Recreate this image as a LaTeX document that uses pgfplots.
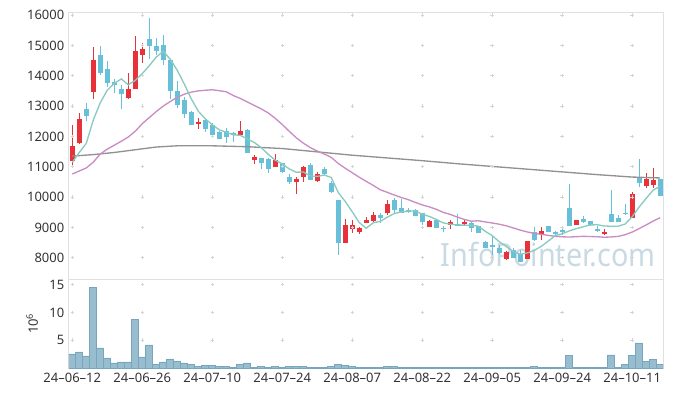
\documentclass[border=0pt]{standalone}
\usepackage{fontspec}
\setmainfont{Noto Sans}
\usepackage{graphicx}
\usepackage{pgfplots}
\usepackage{pgfplotstable}
\pgfplotsset{compat=1.18}
\usetikzlibrary{calc}
\definecolor{upred}{RGB}{232,50,58}
\definecolor{dnblue}{RGB}{104,192,216}
\definecolor{maA}{RGB}{136,202,192}
\definecolor{maB}{RGB}{202,140,196}
\definecolor{maC}{RGB}{145,145,145}
\definecolor{volfill}{RGB}{151,189,206}
\definecolor{voledge}{RGB}{120,166,189}
\definecolor{framec}{RGB}{224,224,224}
\definecolor{gridc}{RGB}{212,212,212}
\definecolor{wm}{RGB}{200,218,228}
\definecolor{txt}{RGB}{51,51,51}

% up (red) candles
\pgfplotstableread{
i O H L C
0 11200 12370 11030 11680
1 11770 12760 11760 12570
3 13470 14940 13220 14520
8 13280 14080 13240 13560
9 13570 15300 13550 14810
10 14690 15070 14430 14880
18 12420 12600 12230 12480
24 12060 12510 12050 12180
26 11220 11390 11090 11330
29 11000 11420 10990 11220
32 10510 10650 10090 10590
33 10670 11030 10490 10980
35 10540 10840 10490 10760
39 8500 9270 8490 9080
40 8940 9240 8830 9070
41 8840 9020 8780 8970
42 9160 9330 9130 9240
43 9220 9500 9130 9410
45 9490 9900 9410 9770
51 9020 9240 9010 9220
54 9070 9240 8940 9180
56 9100 9240 9060 9190
62 7960 8210 7910 8200
65 7960 8560 7950 8550
67 8770 9020 8590 8880
72 9090 9260 9080 9240
76 8770 8960 8760 8850
80 9320 10180 9310 10100
82 10380 10780 10290 10600
83 10410 10950 10290 10560
}\upc

% down (blue) candles
\pgfplotstableread{
i O H L C
2 12900 13090 12510 12680
4 14680 14980 14030 14100
5 14210 14480 13640 13750
6 13780 13900 13420 13690
7 13560 13700 12890 13410
11 15210 15890 14560 14990
12 14980 15230 14670 14830
13 15010 15340 14350 14520
14 14520 14520 13230 13500
15 13510 13840 12930 13040
16 13200 13300 12620 12740
17 12800 12850 12360 12390
19 12540 12600 12150 12250
20 12380 12450 11940 12050
21 12150 12190 11900 11920
22 12180 12270 11770 11980
23 12100 12150 11830 12050
25 12210 12240 11440 11460
27 11290 11300 10920 11130
28 11250 11280 10780 10940
30 11110 11130 10780 10840
31 10660 10750 10420 10510
34 11060 11110 10550 10560
36 10930 10980 10740 10750
37 10470 10540 10140 10180
38 9900 9910 8100 8500
44 9410 9490 9160 9300
46 9900 9960 9460 9570
47 9630 9940 9460 9490
48 9580 9630 9470 9530
49 9580 9600 9370 9390
50 9460 9480 9080 9190
52 9240 9250 8980 8990
53 8990 9050 8840 8960
55 9120 9440 9040 9050
57 9160 9170 8860 8990
58 9060 9060 8800 8800
59 8530 8540 8320 8330
60 8420 8730 8080 8350
61 8330 8420 8120 8170
63 8250 8310 7990 8000
64 8140 8250 7860 7870
66 8860 9020 8550 8580
68 9050 9060 8850 8860
69 8860 8870 8760 8770
70 8900 9000 8750 8870
71 9630 10420 9040 9050
73 9270 9380 9130 9180
74 9200 9210 9060 9070
75 8960 9050 8850 8900
77 9440 10230 9180 9190
78 9300 9400 9180 9190
79 9490 9760 9420 9430
81 10650 11250 10320 10470
84 10600 10600 10040 10050
}\dnc

% 5-day moving average
\pgfplotstableread{
i v
0 11145
1 11470
2 11771
3 12540
4 13110
5 13524
6 13748
7 13894
8 13702
9 13844
10 14070
11 14330
12 14614
13 14806
14 14544
15 14176
16 13726
17 13238
18 12830
19 12580
20 12382
21 12218
22 12136
23 12050
24 12036
25 11918
26 11800
27 11630
28 11408
29 11216
30 11092
31 10928
32 10820
33 10828
34 10696
35 10680
36 10728
37 10646
38 10150
39 9854
40 9516
41 9160
42 8972
43 9154
44 9198
45 9338
46 9458
47 9508
48 9532
49 9550
50 9434
51 9364
52 9264
53 9150
54 9108
55 9080
56 9074
57 9074
58 9042
59 8872
60 8732
61 8528
62 8370
63 8210
64 8118
65 8158
66 8240
67 8376
68 8548
69 8728
70 8792
71 8886
72 8958
73 9022
74 9082
75 9088
76 9048
77 9038
78 9040
79 9112
80 9352
81 9676
82 9958
83 10232
84 10356
}\maa

% 20-day moving average
\pgfplotstableread{
i v
0 10760
1 10860
2 10960
3 11150
4 11420
5 11580
6 11710
7 11840
8 11980
9 12170
10 12420
11 12620
12 12820
13 13000
14 13150
15 13290
16 13390
17 13460
18 13500
19 13520
20 13538
21 13506
22 13471
23 13347
24 13251
25 13137
26 13019
27 12905
28 12774
29 12594
30 12392
31 12168
32 11956
33 11779
34 11632
35 11518
36 11419
37 11308
38 11109
39 10951
40 10802
41 10654
42 10517
43 10385
44 10241
45 10157
46 10069
47 9987
48 9916
49 9825
50 9742
51 9678
52 9598
53 9497
54 9428
55 9342
56 9264
57 9205
58 9220
59 9182
60 9146
61 9106
62 9054
63 8984
64 8912
65 8851
66 8802
67 8771
68 8738
69 8707
70 8691
71 8682
72 8695
73 8706
74 8700
75 8693
76 8676
77 8686
78 8705
79 8760
80 8848
81 8963
82 9083
83 9211
84 9320
}\mab

% long moving average
\pgfplotstableread{
i v
0 11350
3 11400
6 11470
9 11560
12 11650
15 11690
20 11690
25 11660
30 11600
35 11490
40 11380
45 11290
50 11200
55 11100
60 11010
65 10920
70 10830
75 10740
80 10660
84 10630
}\mac

% volume (millions)
\pgfplotstableread{
i v
0 2.52
1 2.88
2 2.16
3 14.5
4 3.6
5 1.8
6 0.9
7 1.08
8 1.08
9 8.7
10 1.98
11 4.14
12 0.72
13 1.08
14 1.62
15 1.26
16 0.9
17 0.72
18 0.36
19 0.54
20 0.54
21 0.36
22 0.36
23 0.18
24 0.72
25 0.9
26 0.18
27 0.36
28 0.18
29 0.36
30 0.18
31 0.36
32 0.36
33 0.36
34 0.18
35 0.18
36 0.18
37 0.3
38 0.72
39 0.54
40 0.36
41 0.18
42 0.18
43 0.18
44 0.18
45 0.36
46 0.36
47 0.18
48 0.18
49 0.18
50 0.18
51 0.05
52 0.05
53 0.05
54 0.18
55 0.18
56 0.05
57 0.05
58 0.18
59 0.18
60 0.18
61 0.05
62 0.05
63 0.05
64 0.18
65 0.18
66 0.36
67 0.18
68 0.18
69 0.05
70 0.05
71 2.2
72 0.18
73 0.18
74 0.05
75 0.05
76 0.05
77 2.34
78 0.18
79 0.72
80 2.2
81 4.5
82 1.13
83 1.49
84 0.72
}\vol

\newcommand{\tickfont}{\fontsize{9.75}{11}\selectfont}

\begin{document}
\begin{tikzpicture}
\begin{axis}[
  name=top,
  scale only axis, width=445.5pt, height=200.25pt,
  xmin=-0.47, xmax=84.4, ymin=7300, ymax=16100,
  axis line style={draw=framec, line width=0.75pt},
  scaled x ticks=false, scaled y ticks=false,
  xtick={0,10,...,80}, xticklabels={},
  ytick={8000,9000,10000,11000,12000,13000,14000,15000,16000},
  yticklabels={8000,9000,10000,11000,12000,13000,14000,15000,16000},
  major tick length=0pt,
  yticklabel style={font=\tickfont, text=txt},
  clip=true,
]
% grid crosses
\pgfplotsinvokeforeach{8000,9000,10000,11000,12000,13000,14000,15000,16000}{
  \addplot[only marks, mark=+, mark size=1.3pt, gridc, line width=0.5pt, forget plot]
    coordinates {(0,#1) (10,#1) (20,#1) (30,#1) (40,#1) (50,#1) (60,#1) (70,#1) (80,#1)};
}
% watermark
\addplot[draw=none, forget plot] coordinates {(83.4,7704)}
  node[anchor=base east, text=wm, inner sep=0pt, font=\fontsize{24}{24}\selectfont] {\scalebox{0.9}[1]{InfoPointer.com}};
% wicks
\addplot[draw=none, mark=none, forget plot,
  error bars/.cd, y dir=both, y explicit, error mark=none,
  error bar style={line width=0.75pt, draw=upred, solid}]
  table[x=i, y expr={(\thisrow{H}+\thisrow{L})/2}, y error expr={(\thisrow{H}-\thisrow{L})/2}] {\upc};
\addplot[draw=none, mark=none, forget plot,
  error bars/.cd, y dir=both, y explicit, error mark=none,
  error bar style={line width=0.75pt, draw=dnblue, solid}]
  table[x=i, y expr={(\thisrow{H}+\thisrow{L})/2}, y error expr={(\thisrow{H}-\thisrow{L})/2}] {\dnc};
% bodies
\addplot[draw=none, mark=none, forget plot,
  error bars/.cd, y dir=both, y explicit, error mark=none,
  error bar style={line width=3.75pt, draw=upred, solid}]
  table[x=i, y expr={(\thisrow{O}+\thisrow{C})/2}, y error expr={max(abs(\thisrow{C}-\thisrow{O})/2,17)}] {\upc};
\addplot[draw=none, mark=none, forget plot,
  error bars/.cd, y dir=both, y explicit, error mark=none,
  error bar style={line width=3.75pt, draw=dnblue, solid}]
  table[x=i, y expr={(\thisrow{O}+\thisrow{C})/2}, y error expr={max(abs(\thisrow{C}-\thisrow{O})/2,17)}] {\dnc};
% moving averages
\addplot[maC, line width=1pt] table[x=i, y=v] {\mac};
\addplot[maB, line width=1pt] table[x=i, y=v] {\mab};
\addplot[maA, line width=1pt] table[x=i, y=v] {\maa};
\end{axis}

\begin{axis}[
  name=bot, at={(top.south west)}, anchor=north west,
  scale only axis, width=445.5pt, height=66.75pt,
  xmin=-0.47, xmax=84.4, ymin=0, ymax=16,
  axis line style={draw=framec, line width=0.75pt},
  scaled x ticks=false, scaled y ticks=false,
  ytick={5,10,15}, yticklabels={5,10,15},
  xtick={0,10,20,30,40,50,60,70,80},
  xticklabels={24--06--12,24--06--26,24--07--10,24--07--24,24--08--07,24--08--22,24--09--05,24--09--24,24--10--11},
  major tick length=0pt,
  ticklabel style={font=\tickfont, text=txt},
  ylabel={10\textsuperscript{6}},
  ylabel style={at={(axis description cs:-0.062,0.5)}, anchor=center, font=\tickfont, text=txt},
  clip=true,
]
\pgfplotsinvokeforeach{5,10,15}{
  \addplot[only marks, mark=+, mark size=1.3pt, gridc, line width=0.5pt, forget plot]
    coordinates {(0,#1) (10,#1) (20,#1) (30,#1) (40,#1) (50,#1) (60,#1) (70,#1) (80,#1)};
}
\addplot[ybar, bar width=1, bar shift=0pt, fill=volfill, draw=voledge, line width=0.6pt]
  table[x=i, y=v] {\vol};
\end{axis}
\path[use as bounding box] ($(top.north west)+(-51.75pt,9pt)$) rectangle ($(bot.south east)+(7.5pt,-21.5pt)$);
\end{tikzpicture}
\end{document}
